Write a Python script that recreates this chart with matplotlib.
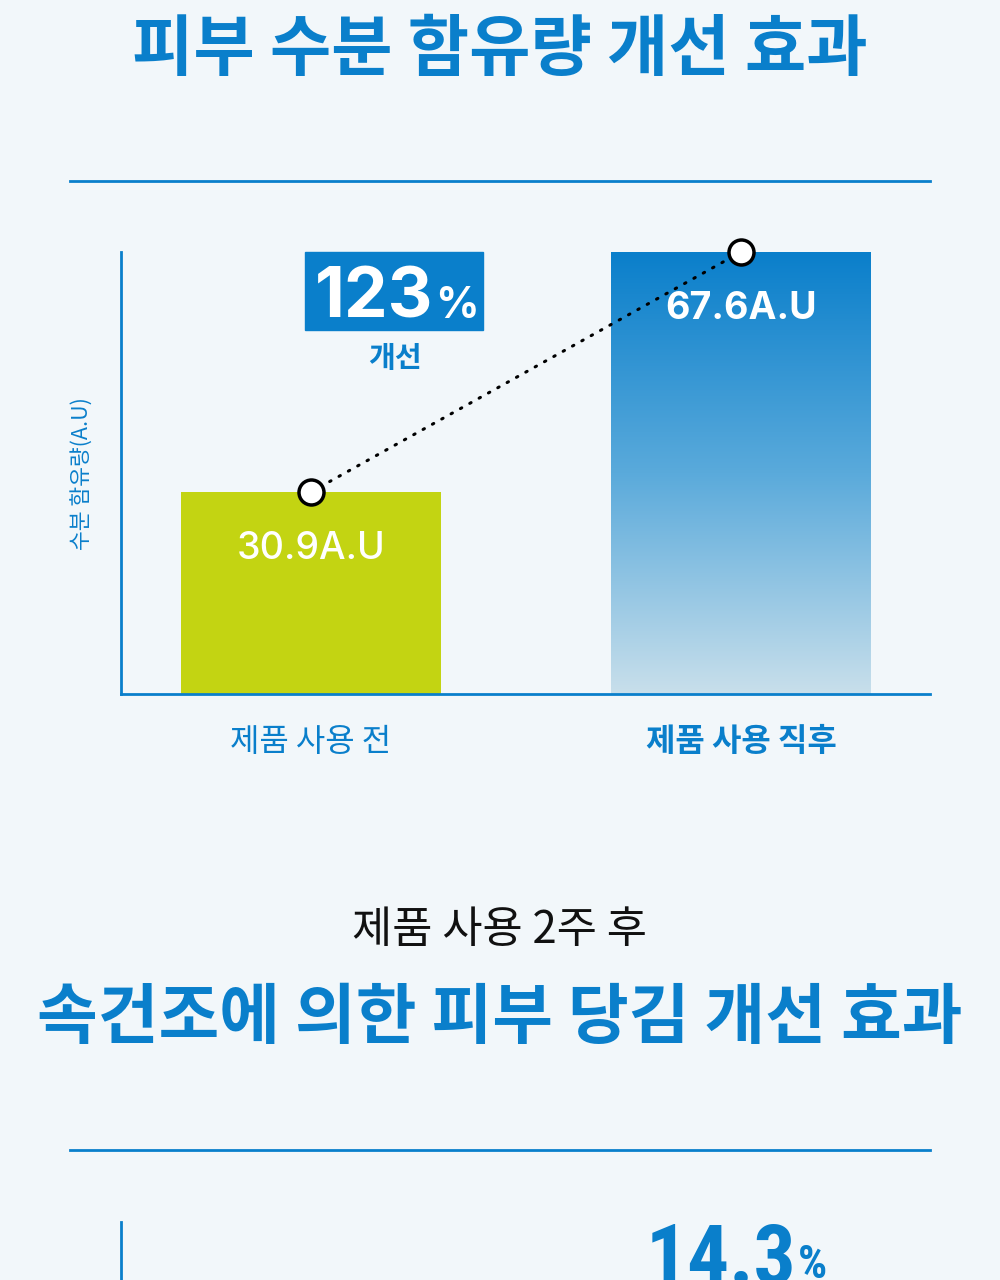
import numpy as np
import matplotlib
matplotlib.use("Agg")
import matplotlib.pyplot as plt
from matplotlib.patches import Rectangle
from matplotlib.lines import Line2D
from matplotlib.colors import LinearSegmentedColormap

# ---- data ----
categories = ["제품 사용 전", "제품 사용 직후"]
values = [30.9, 67.6]
value_labels = ["30.9A.U", "67.6A.U"]
improvement = "123"
improvement_unit = "%"
improvement_text = "개선"
y_label = "수분 함유량(A.U)"
title1 = "피부 수분 함유량 개선 효과"
subtitle2 = "제품 사용 2주 후"
title2 = "속건조에 의한 피부 당김 개선 효과"
next_value = "14.3"

BG = "#f2f7fa"
BLUE = "#0a7fcb"
LIME = "#c3d412"
KR = ["Noto Sans CJK KR", "DejaVu Sans"]
NUM = ["Inter", "Roboto", "DejaVu Sans"]
COND = ["Roboto Condensed", "Liberation Sans Narrow", "Roboto", "DejaVu Sans"]

W, H = 1000, 1280
fig = plt.figure(figsize=(10, 12.8), dpi=100, facecolor=BG)

def fy(py):
    return 1 - py / H

def fx(px):
    return px / W

# titles
fig.text(0.5, fy(50), title1, ha="center", va="center", color=BLUE,
         fontsize=48, fontweight="black", family=KR)
fig.add_artist(Line2D([fx(70), fx(930)], [fy(181), fy(181)], color=BLUE, lw=2))

# main axes
ax = fig.add_axes([fx(121), fy(694), fx(930) - fx(121), (694 - 252) / H])
ax.set_facecolor("none")
for s in ["top", "right"]:
    ax.spines[s].set_visible(False)
for s in ["left", "bottom"]:
    ax.spines[s].set_color(BLUE)
    ax.spines[s].set_linewidth(2)
ax.set_xticks([])
ax.set_yticks([])
x = np.arange(len(values))
bw = 260 / 430
bars = ax.bar(x, values, width=bw, color=[LIME, "none"], zorder=2)

# gradient for second bar
cmap = LinearSegmentedColormap.from_list("g", ["#c8dfeb", "#5aaadb", "#0a7fcb"])
grad = np.linspace(0, 1, 256).reshape(-1, 1)
b = bars[1]
im = ax.imshow(grad, extent=[b.get_x(), b.get_x() + b.get_width(), 0, values[1]],
               origin="lower", cmap=cmap, aspect="auto", zorder=2)
im.set_clip_path(b)
ax.set_xlim(-190 / 430, 1 + 189 / 430)
ax.set_ylim(0, values[1])

# dotted connector and markers
ax.plot(x, values, color="black", lw=2.2, linestyle=(0, (0.5, 3.0)),
        dash_capstyle="round", zorder=3, clip_on=False)
ax.plot(x, values, "o", ms=18, mfc="white", mec="black", mew=2.5, zorder=4, clip_on=False)

# value labels
ax.text(x[0], values[0] - 8.7, value_labels[0], ha="center", va="center",
        color="white", fontsize=27, fontweight="medium", family=NUM, zorder=5)
ax.text(x[1], values[1] - 8.7, value_labels[1], ha="center", va="center",
        color="white", fontsize=27, fontweight="bold", family=NUM, zorder=5)

# y label
fig.text(fx(83), fy(474), y_label, rotation=90, ha="center", va="center",
         color=BLUE, fontsize=15.5, fontweight="medium", family=KR)

# x labels
fig.text(fx(311), fy(742), categories[0], ha="center", va="center",
         color=BLUE, fontsize=23, fontweight="medium", family=KR)
fig.text(fx(741), fy(742), categories[1], ha="center", va="center",
         color=BLUE, fontsize=23, fontweight="bold", family=KR)

# badge
fig.add_artist(Rectangle((fx(305), fy(330)), fx(483) - fx(305), (330 - 252) / H,
                         transform=fig.transFigure, color=BLUE, zorder=3))
fig.text(fx(433), fy(318), improvement, ha="right", va="baseline", color="white",
         fontsize=50, fontweight="bold", family=NUM, zorder=4)
fig.text(fx(435), fy(318), improvement_unit, ha="left", va="baseline", color="white",
         fontsize=31, fontweight="bold", family=NUM, zorder=4)
fig.text(fx(395), fy(358), improvement_text, ha="center", va="center", color=BLUE,
         fontsize=21, fontweight="bold", family=KR)

# second section
fig.text(0.5, fy(930), subtitle2, ha="center", va="center", color="#111111",
         fontsize=31.5, family=KR)
fig.text(0.5, fy(1018), title2, ha="center", va="center", color=BLUE,
         fontsize=47.5, fontweight="black", family=KR)
fig.add_artist(Line2D([fx(70), fx(930)], [fy(1150), fy(1150)], color=BLUE, lw=2))

ax2 = fig.add_axes([fx(121), 0, fx(930) - fx(121), (1280 - 1222) / H])
ax2.set_facecolor("none")
for s in ["top", "right", "bottom"]:
    ax2.spines[s].set_visible(False)
ax2.spines["left"].set_color(BLUE)
ax2.spines["left"].set_linewidth(2)
ax2.set_xticks([])
ax2.set_yticks([])

fig.text(fx(796), fy(1222), next_value, ha="right", va="top", color=BLUE,
         fontsize=60, fontweight="bold", family=COND)
fig.text(fx(798), fy(1243), "%", ha="left", va="top", color=BLUE,
         fontsize=33, fontweight="bold", family=COND)

fig.savefig("out.png", dpi=100, facecolor=BG)
